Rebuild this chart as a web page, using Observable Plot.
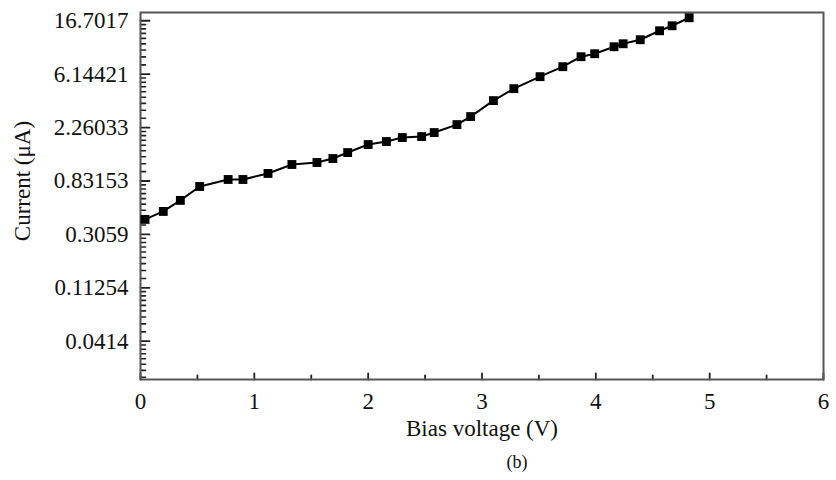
<!DOCTYPE html>
<html>
<head>
<meta charset="utf-8">
<script src="https://cdn.jsdelivr.net/npm/d3@7"></script>
<script src="https://cdn.jsdelivr.net/npm/@observablehq/plot@0.6"></script>
<style>
  html, body { margin: 0; padding: 0; background: #fff; }
  #chart { width: 836px; }
  #cap { width: 836px; height: 35px; line-height: 35px; font-family: "Liberation Serif", "Times New Roman", serif; font-size: 18px; color: #111; }
  #cap span { position: relative; left: 517px; display: inline-block; transform: translateX(-50%); }
</style>
</head>
<body>
<div id="chart"></div>
<div id="cap"><span>(b)</span></div>
<script>
// Bias voltage (V)
const voltage = [0.04, 0.20, 0.35, 0.52, 0.77, 0.90, 1.12, 1.33, 1.55, 1.69,
                 1.82, 2.00, 2.16, 2.30, 2.47, 2.58, 2.78, 2.90, 3.10, 3.28,
                 3.51, 3.71, 3.87, 3.99, 4.16, 4.24, 4.39, 4.56, 4.67, 4.82];
// Current (µA)
const current = [0.405, 0.470, 0.578, 0.750, 0.855, 0.855, 0.957, 1.132, 1.175, 1.266,
                 1.416, 1.645, 1.740, 1.875, 1.910, 2.059, 2.390, 2.777, 3.745, 4.685,
                 5.864, 7.068, 8.521, 9.012, 10.27, 10.86, 11.71, 13.85, 15.21, 17.67];

const yTickValues = [16.7017, 6.14421, 2.26033, 0.83153, 0.3059, 0.11254, 0.0414];
const yTickLabels = ["16.7017", "6.14421", "2.26033", "0.83153", "0.3059", "0.11254", "0.0414"];
const xTickValues = [0, 1, 2, 3, 4, 5, 6];
const xMinorTicks = [0.5, 1.5, 2.5, 3.5, 4.5, 5.5];
const xDomain = [0, 6];
const yDomain = [0.0202, 19.5];

const xLabel = "Bias voltage (V)";
const yLabel = "Current (\u03bcA)";

// minor y ticks: linear subdivisions between successive major (factor e) ticks
const yMinorTicks = [];
const lows = yTickValues.concat([yTickValues[yTickValues.length - 1] / Math.E]);
for (const a of lows) {
  const b = a * Math.E;
  for (let i = 1; i < 9; i++) {
    const v = a + (b - a) * i / 9;
    if (v >= yDomain[0] && v <= yDomain[1]) yMinorTicks.push(v);
  }
}

const data = voltage.map((v, i) => ({v, c: current[i]}));
const yLabelData = yTickValues.map((v, i) => ({v, t: yTickLabels[i]}));
const font = "'Liberation Serif', 'Times New Roman', serif";

const tickShape = {draw(context, l) { context.moveTo(0, 0); context.lineTo(0, -l); }};

const chart = Plot.plot({
  width: 836,
  height: 445,
  marginLeft: 140,
  marginRight: 13,
  marginTop: 12,
  marginBottom: 66,
  style: {fontFamily: font, fontSize: "23px", color: "#111", background: "#fff"},
  x: {domain: xDomain},
  y: {type: "log", domain: yDomain, axis: null},
  marks: [
    // y tick labels
    Plot.text(yLabelData, {y: "v", text: "t", frameAnchor: "left", dx: -12, textAnchor: "end", lineAnchor: "middle", fontSize: 23, fill: "#111"}),
    // inward y ticks
    Plot.vector(yMinorTicks, {y: d => d, frameAnchor: "left", length: 5, rotate: 90, anchor: "start", shape: tickShape, stroke: "#222", strokeWidth: 1.6}),
    Plot.vector(yTickValues, {y: d => d, frameAnchor: "left", length: 9, rotate: 90, anchor: "start", shape: tickShape, stroke: "#222", strokeWidth: 1.8}),
    // x axis
    Plot.axisX(xTickValues, {tickSize: 0, tickPadding: 13, tickFormat: d => String(d), label: null, fontSize: 23}),
    Plot.vector(xTickValues, {x: d => d, frameAnchor: "bottom", length: 6, rotate: 0, anchor: "start", shape: tickShape, stroke: "#222", strokeWidth: 1.8}),
    Plot.vector(xMinorTicks, {x: d => d, frameAnchor: "bottom", length: 4, rotate: 0, anchor: "start", shape: tickShape, stroke: "#222", strokeWidth: 1.8}),
    Plot.frame({stroke: "#555", strokeWidth: 2}),
    Plot.line(data, {x: "v", y: "c", stroke: "#000", strokeWidth: 2}),
    Plot.dot(data, {x: "v", y: "c", symbol: "square", r: 5, fill: "#000", stroke: "none"}),
    Plot.text([xLabel], {text: d => d, frameAnchor: "bottom", dy: 49, textAnchor: "middle", lineAnchor: "middle", fontSize: 23, fill: "#111"}),
    Plot.text([yLabel], {text: d => d, frameAnchor: "left", dx: -118, dy: -15, rotate: -90, textAnchor: "middle", lineAnchor: "middle", fontSize: 23, fill: "#111"})
  ]
});
document.getElementById("chart").appendChild(chart);
</script>
</body>
</html>
